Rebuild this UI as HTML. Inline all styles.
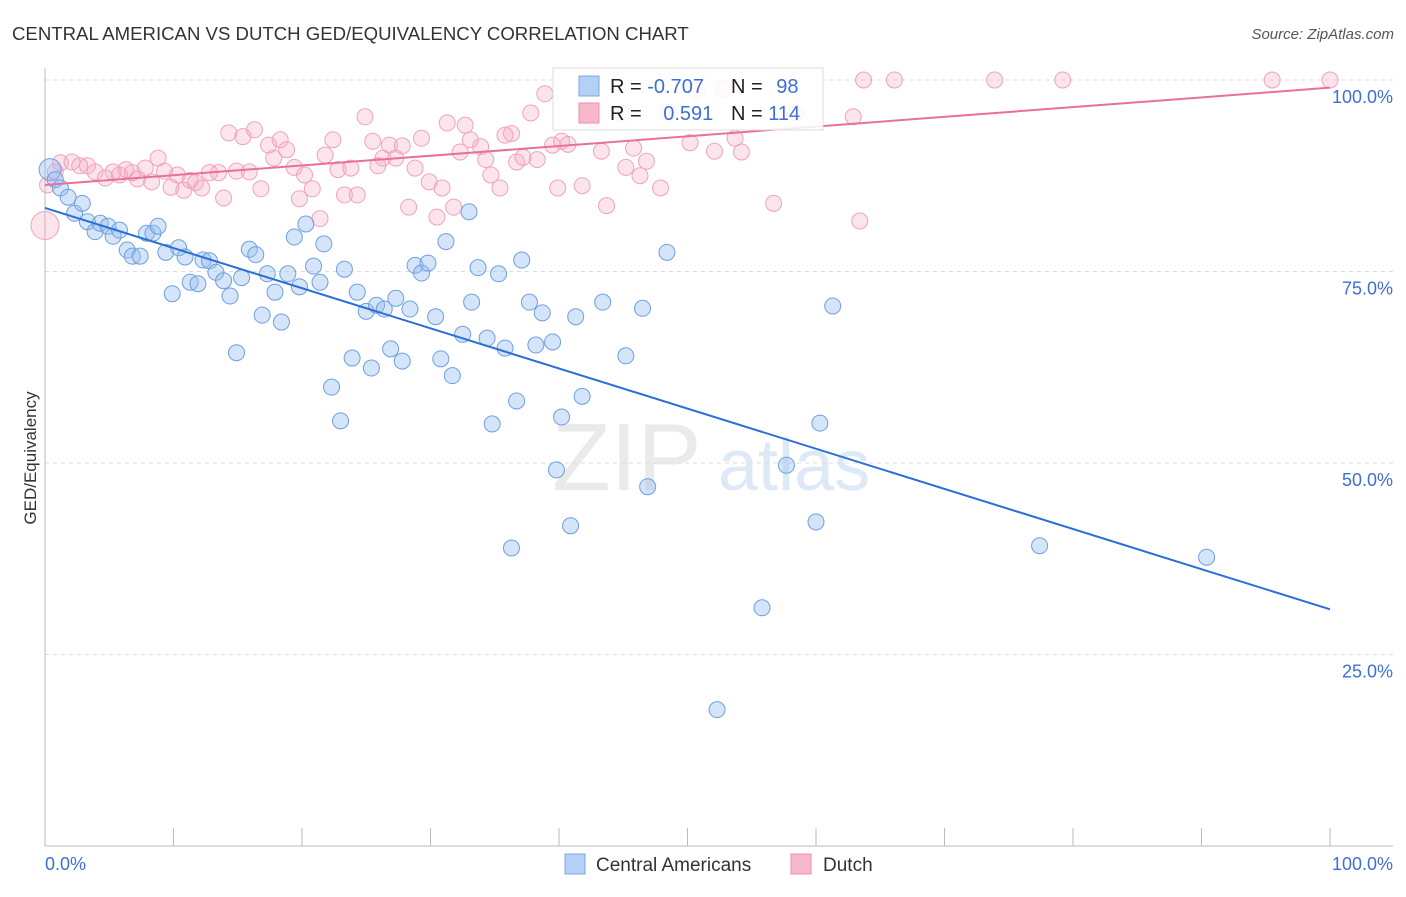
<!DOCTYPE html>
<html><head><meta charset="utf-8"><style>
body{margin:0;background:#fff;font-family:"Liberation Sans",sans-serif;}
svg text{font-family:"Liberation Sans",sans-serif;}
</style></head><body>
<svg id="c" width="1406" height="892" xmlns="http://www.w3.org/2000/svg">
<text x="12" y="40" font-size="18.6" fill="#333">CENTRAL AMERICAN VS DUTCH GED/EQUIVALENCY CORRELATION CHART</text>
<text x="1394" y="39" font-size="15" fill="#555" text-anchor="end" font-style="italic">Source: ZipAtlas.com</text>
<text x="36" y="458" font-size="17" fill="#333" text-anchor="middle" transform="rotate(-90 36 458)">GED/Equivalency</text>
<g><text x="552" y="490" font-size="96" fill="#ddd" font-family="Liberation Serif" opacity="0.6">ZIP</text><text x="718" y="490" font-size="72" fill="#c8dcf2" opacity="0.6">atlas</text></g>
<g id="grid"></g><g id="axes"></g><g id="pts"></g><g id="lines"></g>
<g>
<rect x="553" y="68" width="270" height="62" fill="#fff" fill-opacity="0.85" stroke="#ddd"/>
<rect x="579" y="76" width="20" height="20" fill="#b5d0f5" stroke="#7aa9e6"/>
<rect x="579" y="103" width="20" height="20" fill="#f7b8cc" stroke="#ee8fae"/>
<text x="610" y="93" font-size="20" fill="#222">R = <tspan fill="#3d6fd6">-0.707</tspan></text>
<text x="731" y="93" font-size="20" fill="#222">N = <tspan fill="#3d6fd6" dx="8">98</tspan></text>
<text x="610" y="120" font-size="20" fill="#222">R = <tspan fill="#3d6fd6" dx="16">0.591</tspan></text>
<text x="731" y="120" font-size="20" fill="#222">N = <tspan fill="#3d6fd6">114</tspan></text>
</g>
<g>
<rect x="565" y="854" width="20" height="20" fill="#b5d0f5" stroke="#7aa9e6"/>
<text x="596" y="871" font-size="19" fill="#333">Central Americans</text>
<rect x="791" y="854" width="20" height="20" fill="#f7b8cc" stroke="#ee8fae"/>
<text x="823" y="871" font-size="19" fill="#333">Dutch</text>
</g>
</svg>
<script>
const blueX=[0.4,0.8,1.2,1.8,2.3,2.9,3.3,3.9,4.3,4.9,5.3,5.8,6.4,6.8,7.4,7.9,8.4,8.8,9.4,9.9,10.4,10.9,11.3,11.9,12.3,12.8,13.3,13.9,14.4,14.9,15.3,15.9,16.4,16.9,17.3,17.9,18.4,18.9,19.4,19.8,20.3,20.9,21.4,21.7,22.3,23,23.3,23.9,24.3,25,25.4,25.8,26.4,26.9,27.3,27.8,28.4,28.8,29.3,29.8,30.4,30.8,31.2,31.7,32.5,33,33.2,33.7,34.4,34.8,35.3,35.8,36.3,36.7,37.1,37.7,38.2,38.7,39.5,39.8,40.2,40.9,41.3,41.8,43.4,45.2,46.5,46.9,48.4,52.3,55.8,57.7,60,60.3,61.3,77.4,90.4];
const blueY=[88.3,87,85.9,84.7,82.6,83.9,81.5,80.2,81.3,80.9,79.6,80.4,77.8,77,77,80,80,80.9,77.5,72.1,78.1,76.9,73.6,73.4,76.5,76.4,74.9,73.8,71.8,64.4,74.2,77.9,77.2,69.3,74.7,72.3,68.4,74.7,79.5,73,81.2,75.7,73.6,78.6,59.9,55.5,75.3,63.7,72.3,69.8,62.4,70.6,70.1,64.9,71.5,63.3,70.1,75.8,74.8,76.1,69.1,63.6,78.9,61.4,66.8,82.8,71,75.5,66.3,55.1,74.7,65,38.9,58.1,76.5,71,65.4,69.6,65.8,49.1,56,41.8,69.1,58.7,71,64,70.2,46.9,77.5,17.8,31.1,49.7,42.3,55.2,70.5,39.2,37.7];
const pinkX=[0,0.2,0.8,1.2,2.1,2.7,3.3,3.9,4.7,5.3,5.8,6.3,6.8,7.2,7.8,8.3,8.8,9.3,9.8,10.3,10.8,11.3,11.7,12.2,12.8,13.5,13.9,14.3,14.9,15.4,15.9,16.3,16.8,17.4,17.8,18.3,18.8,19.4,19.8,20.2,20.8,21.4,21.8,22.4,22.8,23.3,23.8,24.3,24.9,25.5,25.9,26.3,26.8,27.3,27.8,28.3,28.8,29.3,29.9,30.5,30.9,31.3,31.8,32.3,32.7,33.1,33.9,34.3,34.7,35.4,35.8,36.3,36.7,37.2,37.8,38.3,38.9,39.5,39.9,40.2,40.7,41.8,42.5,43.3,43.7,44.9,45.2,45.8,46.3,46.8,47.9,48.5,50.2,50.7,52.1,52.8,53.7,54.2,56.7,58.4,62.9,63.4,63.7,66.1,73.9,79.2,95.5,100];
const pinkY=[81,86.3,88,89.2,89.3,88.8,88.8,88,87.2,88,87.6,88.3,87.9,87.1,88.5,86.7,89.8,88.1,86,87.6,85.6,86.9,86.6,85.9,87.9,87.9,84.6,93.1,88.1,92.6,88,93.5,85.8,91.5,89.8,92.2,90.9,88.6,84.5,87.6,85.8,81.9,90.2,92.2,88.3,85,88.5,85,95.2,92,88.8,89.8,91.5,89.8,91.4,83.4,88.5,92.4,86.7,82.1,85.9,94.4,83.4,90.6,94.1,92.2,91.3,89.6,87.6,85.9,92.8,93,89.3,89.9,95.7,89.6,98.2,91.5,85.9,92,91.6,86.2,94.8,90.7,83.6,95.7,88.6,91.1,87.5,89.4,85.9,95.8,91.8,98.6,90.7,98.8,92.4,90.6,83.9,95.7,95.2,81.6,100,100,100,100,100,100];
const yTicks=[100,75,50,25];
const yTickLabels=["100.0%","75.0%","50.0%","25.0%"];
const blueLine=[83.3,30.9];
const pinkLine=[86.3,99.0];
const NS="http://www.w3.org/2000/svg";
const X=v=>45+v*12.85, Y=v=>846-v*7.66;
function mk(t,a,p){const e=document.createElementNS(NS,t);for(const k in a)e.setAttribute(k,a[k]);p.appendChild(e);return e;}
const grid=document.getElementById('grid'),axes=document.getElementById('axes'),pts=document.getElementById('pts'),lines=document.getElementById('lines');
yTicks.forEach((t,i)=>{
 const l=mk('line',{x1:45,x2:1393,y1:Y(t),y2:Y(t),stroke:'#ddd','stroke-dasharray':'4,4'},grid);
 
 
 const tx=mk('text',{x:1393,y:Y(t)+23,'font-size':18,fill:'#3d6fd6','text-anchor':'end'},grid);
 tx.textContent=yTickLabels[i];
 
 
});
mk('line',{x1:45,x2:45,y1:68,y2:846,stroke:'#bbb'},axes);
mk('line',{x1:45,x2:1393,y1:846,y2:846,stroke:'#bbb'},axes);
for(let i=1;i<=10;i++){const t=mk('line',{x1:X(i*10),x2:X(i*10),y1:846,y2:828,stroke:'#bbb'},axes);}
const x0=mk('text',{x:45,y:870,'font-size':18,fill:'#3d6fd6'},axes);x0.textContent='0.0%';


const x1=mk('text',{x:1393,y:870,'font-size':18,fill:'#3d6fd6','text-anchor':'end'},axes);x1.textContent='100.0%';


pinkX.forEach((x,i)=>{const c=mk('circle',{cx:X(x),cy:Y(pinkY[i]),r:i==0?14:8,fill:'rgba(245,165,192,0.3)',stroke:'#f0a3bd','stroke-width':1},pts);
 
 });
blueX.forEach((x,i)=>{const c=mk('circle',{cx:X(x),cy:Y(blueY[i]),r:i==0?11:8,fill:'rgba(150,190,240,0.4)',stroke:'#6f9fe0','stroke-width':1},pts);
 
 });
const bl=mk('line',{x1:X(0),y1:Y(blueLine[0]),x2:X(100),y2:Y(blueLine[1]),stroke:'#2a6fd8','stroke-width':2},lines);


const pl=mk('line',{x1:X(0),y1:Y(pinkLine[0]),x2:X(100),y2:Y(pinkLine[1]),stroke:'#e8709a','stroke-width':2},lines);


</script>
</body></html>
